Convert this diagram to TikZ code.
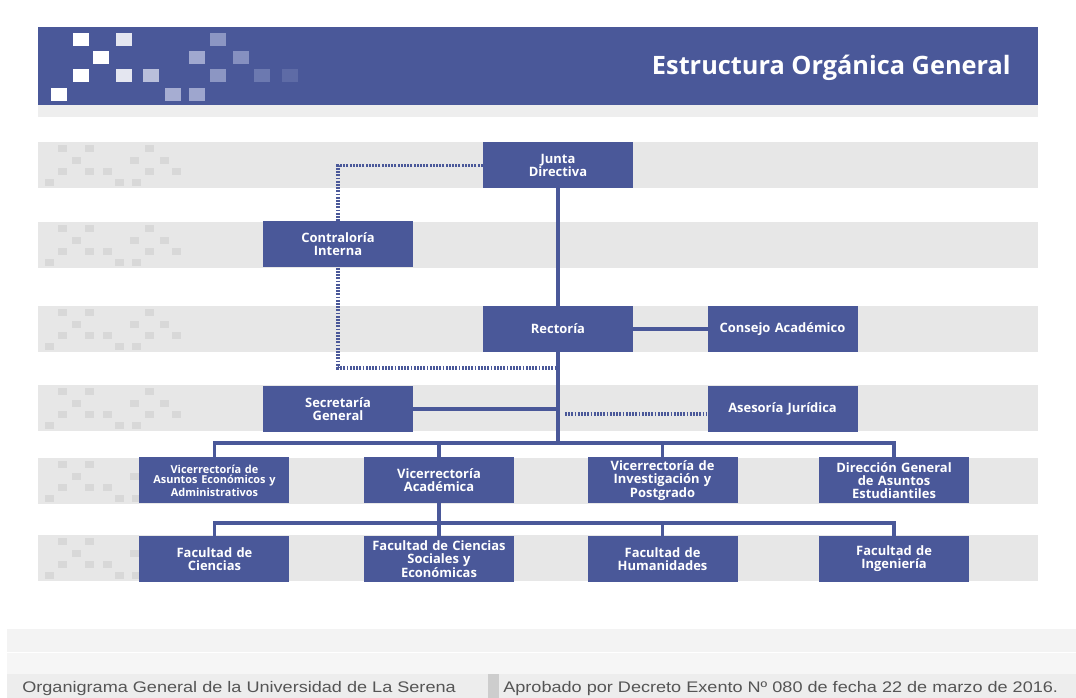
\documentclass[tikz,border=0pt]{standalone}
\usepackage{fontspec}
\setmainfont{Open Sans}
\newfontfamily\footfont{Liberation Sans}
\usetikzlibrary{positioning}
\definecolor{Navy}{HTML}{4A5899}
\definecolor{Band}{HTML}{E7E7E7}
\definecolor{BandSq}{HTML}{D8D8D8}
\definecolor{FootBg}{HTML}{EDEDED}
\definecolor{FootBar}{HTML}{CDCDCD}
\definecolor{FootTxt}{HTML}{555555}
\setlength{\lineskiplimit}{-6pt}

\begin{document}
\begin{tikzpicture}[
  x=0.75pt,y=-0.75pt,
  node distance=24pt,
  unit/.style={fill=Navy,text=white,font=\bfseries\fontsize{9.7}{9.6}\selectfont,
    minimum width=112.5pt,minimum height=34.5pt,text width=108pt,align=center,inner sep=0pt},
  small/.style={unit,font=\bfseries\fontsize{8.2}{7.9}\selectfont},
  link/.style={draw=Navy,line width=2.6pt,line cap=rect},
  dots/.style={draw=Navy,line width=2.4pt,dash pattern=on 1.4pt off 1pt},
  foot/.style={anchor=base west,text=FootTxt,font=\footfont\fontsize{11.5}{13}\selectfont,inner sep=0pt,xscale=1.18}
]
\useasboundingbox (0,0) rectangle (1076,698);
\fill[white] (0,0) rectangle (1076,698);

% header
\fill[Navy] (38,27) rectangle (1038,105);
\fill[Band!70] (38,105) rectangle (1038,117);
\foreach \x/\y/\c in {51/88/FFFFFF,73/33/FFFFFF,73/69/FFFFFF,93/51/FFFFFF,
    116/33/E4E6F0,116/69/E4E6F0,143/69/B9BFDB,165/88/A6ADD2,189/88/9EA6CE,
    189/51/A0A8CF,210/33/8C96C3,210/69/8C96C3,233/51/8690C0,254/69/6C79B0,282/69/5E6BA6} {
  \definecolor{SqTone}{HTML}{\c}
  \fill[SqTone] (\x,\y) rectangle ++(16,13);
}
\node[anchor=base east,text=white,font=\bfseries\fontsize{19}{21}\selectfont,inner sep=0pt] (title) at (1011,75) {Estructura Orgánica General};

% grey bands
\foreach \t in {142,222,306,385,458,535} {
  \fill[Band] (38,\t) rectangle (1038,\t+46);
  \foreach \x/\dy in {58/3,85/3,145/3,72/15,130/15,160/15,58/26,85/26,103/26,145/26,172/26,45/37,115/37,132/37}
    \fill[BandSq] (\x,\t+\dy) rectangle ++(9,7);
}

% units
\node[unit] (junta) at (558,165.5) {Junta\\Directiva};
\node[unit] (contra) at (338,244.5) {Contraloría\\Interna};
\node[unit,below=87.75pt of junta] (rect) {Rectoría};
\node[unit,right=55.5pt of rect] (consejo) {Consejo Académico};
\node[unit,below=88.5pt of contra] (secre) {Secretaría\\General};
\node[unit,below=24.75pt of consejo] (ases) {Asesoría Jurídica};

\node[unit] (va) at (439,480.5) {Vicerrectoría\\Académica};
\node[small,left=55.5pt of va] (vaea) {Vicerrectoría de\\Asuntos Económicos y\\Administrativos};
\node[unit,right=54.75pt of va] (vip) {Vicerrectoría de\\Investigación y\\Postgrado};
\node[unit,right=60.75pt of vip] (dgae) {Dirección General\\de Asuntos\\Estudiantiles};

\node[unit,below=24pt of vaea] (fc) {Facultad de\\Ciencias};
\node[unit,below=24pt of va] (fcs) {Facultad de Ciencias\\Sociales y\\Económicas};
\node[unit,below=24pt of vip] (fh) {Facultad de\\Humanidades};
\node[unit,below=24pt of dgae] (fi) {Facultad de\\Ingeniería};

\coordinate (busA) at (558,443);
\coordinate (busB) at (439,523);
\coordinate (dotR) at (558,368);
\coordinate (dotA) at (565,414);

% solid lines
\draw[link] (junta) -- (rect);
\draw[link] (rect) -- (consejo);
\draw[link] (rect.south) -- (busA);
\draw[link] (secre.east) -- (secre.east -| busA);
\draw[link] (vaea.north) |- (busA) -| (dgae.north);
\draw[link] (va.north) -- (va.north |- busA);
\draw[link] (vip.north) -- (vip.north |- busA);
\draw[link] (va.south) -- (busB);
\draw[link] (fc.north) |- (busB) -| (fi.north);
\draw[link] (fcs.north) -- (busB);
\draw[link] (fh.north) -- (fh.north |- busB);

% dotted lines
\draw[dots] (junta.west) -| (contra.north);
\draw[dots] (contra.south) |- (dotR);
\draw[dots] (dotA) -- (dotA -| ases.west);

% footer
\fill[FootBg!70] (7,629) rectangle (1076,652);
\fill[FootBg!50] (7,653.5) rectangle (1076,674);
\fill[FootBg] (7,674) rectangle (488,698);
\fill[FootBar] (488,674) rectangle (499,698);
\fill[FootBg] (499,674) rectangle (1076,698);
\node[foot] (foot1) at (22,693) {Organigrama General de la Universidad de La Serena};
\node[foot] (foot2) at (503,693) {Aprobado por Decreto Exento Nº 080 de fecha 22 de marzo de 2016.};
\end{tikzpicture}
\end{document}
